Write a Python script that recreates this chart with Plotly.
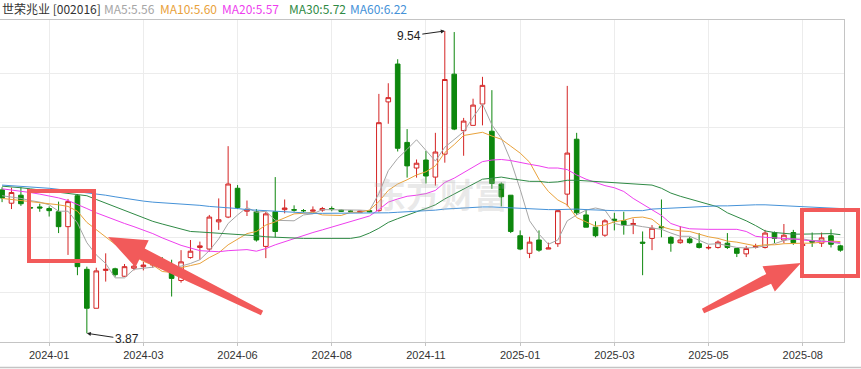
import plotly.graph_objects as go

# ---------------- data (weekly candles) ----------------
week_idx = list(range(90))

open_ = [6.56, 6.31, 6.46, 6.23, 6.24, 6.21, 6.15, 5.87, 6.45, 5.07,
         4.34, 5.05, 5.08, 4.94, 5.09, 5.12, 5.15, 5.22, 5.03, 4.86,
         5.29, 5.48, 5.45, 5.96, 6.05, 6.59, 6.16, 6.15, 5.50, 6.15,
         6.19, 6.19, 6.17, 6.16, 6.18, 6.21, 6.18, 6.16, 6.14, 6.17,
         6.17, 8.21, 8.92, 7.45, 6.97, 7.12, 6.80, 7.23, 8.73, 7.67,
         7.77, 8.17, 7.66, 6.67, 6.46, 5.70, 5.37, 5.62, 5.45, 5.55,
         6.48, 7.51, 6.09, 5.86, 5.71, 6.01, 5.98, 5.91, 5.58, 5.65,
         5.87, 5.67, 5.57, 5.64, 5.55, 5.47, 5.48, 5.56, 5.46, 5.36,
         5.48, 5.48, 5.76, 5.62, 5.76, 5.52, 5.60, 5.56, 5.70, 5.51]
high = [6.61, 6.60, 6.61, 6.25, 6.30, 6.25, 6.34, 6.39, 6.48, 5.12,
        5.10, 5.37, 5.10, 5.17, 5.28, 5.21, 5.22, 5.30, 5.25, 5.43,
        5.62, 5.59, 6.09, 6.40, 7.38, 6.65, 6.36, 6.20, 6.15, 6.80,
        6.38, 6.27, 6.20, 6.25, 6.24, 6.25, 6.19, 6.18, 6.17, 6.18,
        8.36, 8.56, 9.01, 7.70, 7.13, 7.29, 7.63, 9.54, 9.52, 7.91,
        8.27, 8.68, 8.43, 6.70, 6.46, 5.80, 5.68, 5.80, 5.57, 6.19,
        8.51, 7.63, 6.20, 5.97, 6.01, 6.13, 6.15, 6.02, 5.78, 5.90,
        6.38, 5.69, 5.88, 5.68, 5.75, 5.52, 5.61, 5.75, 5.46, 5.51,
        5.55, 5.81, 5.78, 5.92, 5.81, 5.58, 5.76, 5.76, 5.82, 5.53]
low = [6.33, 6.20, 6.26, 6.20, 6.15, 6.06, 5.75, 5.34, 4.96, 3.87,
       4.34, 4.84, 4.93, 4.93, 5.05, 5.05, 5.10, 5.15, 4.56, 4.82,
       5.27, 5.25, 5.40, 5.81, 6.03, 6.20, 6.07, 5.59, 5.28, 5.67,
       6.12, 6.15, 6.14, 6.14, 6.15, 6.16, 6.15, 6.14, 6.13, 6.14,
       6.15, 7.80, 7.28, 6.79, 6.79, 6.68, 6.64, 7.07, 7.68, 7.20,
       7.77, 7.77, 6.58, 6.25, 5.75, 5.43, 5.28, 5.40, 5.45, 5.49,
       6.25, 6.09, 5.86, 5.67, 5.68, 5.80, 5.72, 5.73, 4.96, 5.43,
       5.67, 5.40, 5.55, 5.55, 5.46, 5.44, 5.46, 5.45, 5.30, 5.30,
       5.46, 5.46, 5.56, 5.56, 5.53, 5.50, 5.49, 5.49, 5.48, 5.40]
close = [6.41, 6.51, 6.30, 6.22, 6.22, 6.17, 5.87, 6.34, 5.12, 4.34,
         5.04, 5.07, 4.97, 5.12, 5.13, 5.15, 5.18, 5.21, 4.90, 5.21,
         5.41, 5.51, 6.05, 6.00, 6.67, 6.23, 6.19, 5.62, 6.11, 5.78,
         6.22, 6.18, 6.17, 6.18, 6.21, 6.20, 6.16, 6.16, 6.16, 6.15,
         7.82, 8.29, 7.34, 7.01, 7.06, 6.82, 7.27, 8.63, 7.70, 7.85,
         8.15, 8.52, 6.68, 6.43, 5.78, 5.45, 5.58, 5.43, 5.47, 6.17,
         7.25, 6.13, 5.86, 5.70, 5.98, 5.99, 5.90, 5.93, 5.56, 5.84,
         5.85, 5.56, 5.62, 5.57, 5.48, 5.48, 5.58, 5.48, 5.37, 5.46,
         5.50, 5.75, 5.65, 5.71, 5.57, 5.53, 5.58, 5.66, 5.54, 5.43]

ma5 = [6.45, 6.43, 6.40, 6.36, 6.33, 6.28, 6.16, 6.16, 5.94, 5.57,
       5.34, 5.18, 4.91, 4.91, 5.07, 5.09, 5.11, 5.16, 5.11, 5.13,
       5.18, 5.25, 5.42, 5.64, 5.93, 6.09, 6.23, 6.14, 6.16, 5.99,
       5.98, 5.98, 6.09, 6.11, 6.19, 6.19, 6.18, 6.18, 6.18, 6.17,
       6.49, 6.92, 7.15, 7.32, 7.50, 7.30, 7.10, 7.36, 7.50, 7.65,
       7.92, 8.17, 7.78, 7.53, 7.11, 6.57, 5.98, 5.73, 5.54, 5.62,
       5.98, 6.09, 6.18, 6.22, 6.18, 5.93, 5.89, 5.90, 5.87, 5.84,
       5.82, 5.75, 5.69, 5.69, 5.62, 5.54, 5.55, 5.52, 5.48, 5.47,
       5.48, 5.51, 5.55, 5.61, 5.64, 5.64, 5.61, 5.61, 5.58, 5.55]
ma10 = [6.40, 6.38, 6.36, 6.34, 6.33, 6.31, 6.28, 6.25, 6.16, 5.95,
        5.81, 5.67, 5.54, 5.43, 5.32, 5.22, 5.15, 5.03, 5.01, 5.10,
        5.14, 5.18, 5.29, 5.38, 5.53, 5.64, 5.74, 5.78, 5.90, 5.96,
        6.04, 6.11, 6.12, 6.14, 6.09, 6.09, 6.08, 6.14, 6.14, 6.18,
        6.34, 6.55, 6.67, 6.75, 6.84, 6.90, 7.01, 7.26, 7.41, 7.58,
        7.61, 7.64, 7.57, 7.51, 7.38, 7.25, 7.08, 6.76, 6.53, 6.37,
        6.28, 6.04, 5.96, 5.88, 5.90, 5.96, 5.99, 6.04, 6.05, 6.01,
        5.87, 5.82, 5.79, 5.78, 5.73, 5.68, 5.65, 5.60, 5.58, 5.55,
        5.51, 5.53, 5.53, 5.55, 5.56, 5.56, 5.56, 5.58, 5.60, 5.59]
ma20 = [6.58, 6.56, 6.54, 6.51, 6.48, 6.45, 6.41, 6.36, 6.29, 6.21,
        6.13, 6.06, 5.99, 5.93, 5.87, 5.81, 5.74, 5.66, 5.59, 5.52,
        5.47, 5.42, 5.41, 5.40, 5.42, 5.43, 5.44, 5.41, 5.46, 5.53,
        5.59, 5.64, 5.70, 5.76, 5.81, 5.86, 5.91, 5.96, 6.02, 6.07,
        6.19, 6.33, 6.39, 6.44, 6.46, 6.49, 6.55, 6.70, 6.78, 6.88,
        6.98, 7.09, 7.12, 7.13, 7.11, 7.07, 7.04, 7.01, 6.97, 6.97,
        6.94, 6.84, 6.76, 6.70, 6.64, 6.60, 6.53, 6.40, 6.29, 6.19,
        6.08, 5.93, 5.87, 5.83, 5.82, 5.82, 5.82, 5.82, 5.82, 5.78,
        5.69, 5.67, 5.66, 5.66, 5.64, 5.62, 5.60, 5.59, 5.59, 5.57]
ma30 = [6.63, 6.62, 6.60, 6.58, 6.56, 6.54, 6.52, 6.50, 6.48, 6.45,
        6.38, 6.31, 6.24, 6.17, 6.10, 6.03, 5.97, 5.92, 5.87, 5.82,
        5.78, 5.77, 5.76, 5.75, 5.74, 5.73, 5.71, 5.70, 5.68, 5.67,
        5.66, 5.65, 5.65, 5.65, 5.65, 5.65, 5.66, 5.65, 5.68, 5.75,
        5.84, 5.95, 6.02, 6.09, 6.15, 6.21, 6.28, 6.39, 6.48, 6.57,
        6.66, 6.76, 6.78, 6.80, 6.77, 6.74, 6.72, 6.72, 6.70, 6.71,
        6.74, 6.74, 6.73, 6.71, 6.71, 6.70, 6.69, 6.68, 6.66, 6.65,
        6.59, 6.50, 6.44, 6.39, 6.34, 6.29, 6.24, 6.13, 6.06, 5.98,
        5.89, 5.79, 5.76, 5.74, 5.73, 5.73, 5.73, 5.74, 5.74, 5.72]
ma60 = [6.65, 6.64, 6.63, 6.62, 6.60, 6.59, 6.57, 6.55, 6.53, 6.51,
        6.49, 6.46, 6.43, 6.40, 6.37, 6.35, 6.33, 6.32, 6.30, 6.29,
        6.28, 6.27, 6.25, 6.24, 6.22, 6.21, 6.19, 6.18, 6.16, 6.15,
        6.14, 6.13, 6.13, 6.12, 6.12, 6.12, 6.12, 6.12, 6.12, 6.12,
        6.12, 6.13, 6.14, 6.15, 6.15, 6.16, 6.18, 6.20, 6.21, 6.23,
        6.24, 6.24, 6.24, 6.23, 6.23, 6.22, 6.21, 6.20, 6.19, 6.19,
        6.20, 6.20, 6.19, 6.18, 6.18, 6.17, 6.17, 6.17, 6.17, 6.20,
        6.21, 6.22, 6.23, 6.24, 6.25, 6.25, 6.26, 6.26, 6.27, 6.27,
        6.28, 6.28, 6.27, 6.27, 6.25, 6.24, 6.23, 6.23, 6.22, 6.21]

tick_idx = [5, 15, 25, 35, 45, 55, 65, 75, 85]
tick_labels = ["2024-01", "2024-03", "2024-06", "2024-08", "2024-11",
               "2025-01", "2025-03", "2025-05", "2025-08"]

stock_title = "世荣兆业 [002016]"
ma_names = ["MA5:5.56", "MA10:5.60", "MA20:5.57", "MA30:5.72", "MA60:6.22"]
ma_series = [ma5, ma10, ma20, ma30, ma60]
ma_colors = ["#a6a6a6", "#e9a23b", "#ee3fee", "#2f8a45", "#4592d8"]

RED = "#d42424"
GREEN = "#0d870d"

# ---------------- layout geometry helpers (pixels -> paper) ----------------
PLOT_L, PLOT_R, PLOT_T, PLOT_B = 0, 844, 20, 342


def pxx(x):
    return (x - PLOT_L) / (PLOT_R - PLOT_L)


def pxy(y):
    return (PLOT_B - y) / (PLOT_B - PLOT_T)


fig = go.Figure()

fig.add_trace(go.Candlestick(
    x=week_idx, open=open_, high=high, low=low, close=close,
    increasing=dict(line=dict(color=RED, width=1), fillcolor="#ffffff"),
    decreasing=dict(line=dict(color=GREEN, width=1), fillcolor=GREEN),
    whiskerwidth=0, hoverinfo="skip", showlegend=False,
))

for s, c in zip(ma_series, ma_colors):
    fig.add_trace(go.Scatter(x=week_idx, y=s, mode="lines",
                             line=dict(color=c, width=1),
                             hoverinfo="skip", showlegend=False))

annotations = []

# header row
header_items = [(stock_title, "#333333", 0)] + \
    list(zip(ma_names, ma_colors, [102, 158, 220, 287, 348]))
for txt, col, xpos in header_items:
    annotations.append(dict(
        text=txt, xref="paper", yref="paper", x=pxx(xpos), y=pxy(8.5),
        xanchor="left", yanchor="middle", showarrow=False,
        font=dict(family="Noto Sans CJK SC", size=12, color=col)))

# watermark
annotations.append(dict(
    text="<b>东方财富</b>", xref="paper", yref="paper", x=pxx(440), y=pxy(193),
    xanchor="center", yanchor="middle", showarrow=False,
    font=dict(family="Noto Sans CJK SC", size=34, color="rgba(180,180,180,0.28)")))

# max / min markers
hi_val = max(high)
hi_i = high.index(hi_val)
lo_val = min(low)
lo_i = low.index(lo_val)
annotations.append(dict(
    x=week_idx[hi_i], y=hi_val, xref="x", yref="y", text=f"{hi_val:.2f}",
    showarrow=True, ax=-36, ay=5, arrowhead=2, arrowsize=0.8, arrowwidth=1,
    arrowcolor="#222222", standoff=0,
    font=dict(family="Liberation Sans", size=12, color="#222222")))
annotations.append(dict(
    x=week_idx[lo_i], y=lo_val, xref="x", yref="y", text=f"{lo_val:.2f}",
    showarrow=True, ax=40, ay=6, arrowhead=2, arrowsize=0.8, arrowwidth=1,
    arrowcolor="#222222", standoff=0,
    font=dict(family="Liberation Sans", size=12, color="#222222")))

# ---------------- red highlight overlays ----------------
OVER = "#f25a5a"
shapes = [
    dict(type="rect", xref="paper", yref="paper",
         x0=pxx(29), x1=pxx(94), y0=pxy(191), y1=pxy(261),
         line=dict(color=OVER, width=4)),
    dict(type="rect", xref="paper", yref="paper",
         x0=pxx(802), x1=pxx(858), y0=pxy(210), y1=pxy(276),
         line=dict(color=OVER, width=4)),
    # bottom border of the date strip
    dict(type="line", xref="paper", yref="paper",
         x0=pxx(0), x1=pxx(861), y0=pxy(367.5), y1=pxy(367.5),
         line=dict(color="#c4c4c4", width=1.5)),
]


def arrow_path(tip, tail, head_len, head_hw, shaft_hw, tail_hw):
    tx, ty = tip
    sx, sy = tail
    dx, dy = tx - sx, ty - sy
    ln = (dx * dx + dy * dy) ** 0.5
    ux, uy = dx / ln, dy / ln
    nx, ny = -uy, ux
    bx, by = tx - ux * head_len, ty - uy * head_len
    pts = [(tx, ty),
           (bx + nx * head_hw, by + ny * head_hw),
           (bx + nx * shaft_hw, by + ny * shaft_hw),
           (sx + nx * tail_hw, sy + ny * tail_hw),
           (sx - nx * tail_hw, sy - ny * tail_hw),
           (bx - nx * shaft_hw, by - ny * shaft_hw),
           (bx - nx * head_hw, by - ny * head_hw)]
    return "M " + " L ".join(f"{pxx(px):.5f},{pxy(py):.5f}" for px, py in pts) + " Z"


shapes.append(dict(type="path", xref="paper", yref="paper",
                   path=arrow_path((108, 237), (262, 313), 38, 15, 6, 2.5),
                   fillcolor=OVER, line=dict(width=0)))
shapes.append(dict(type="path", xref="paper", yref="paper",
                   path=arrow_path((801, 263), (703, 311), 36, 14, 5.5, 2.5),
                   fillcolor=OVER, line=dict(width=0)))

fig.update_layout(
    width=861, height=369,
    margin=dict(l=PLOT_L, r=861 - PLOT_R, t=PLOT_T, b=369 - PLOT_B),
    paper_bgcolor="#ffffff", plot_bgcolor="#ffffff",
    showlegend=False, hovermode=False, boxgap=0.3,
    annotations=annotations, shapes=shapes,
    xaxis=dict(range=[-0.22, 89.38], tickmode="array", tickvals=tick_idx,
               ticktext=tick_labels, showgrid=True, gridcolor="#ececec",
               gridwidth=1, showline=True, linecolor="#c4c4c4", linewidth=1,
               mirror=True, ticks="outside", ticklen=3, tickcolor="#c4c4c4",
               zeroline=False, rangeslider=dict(visible=False),
               tickfont=dict(family="Liberation Sans", size=11, color="#333333")),
    yaxis=dict(range=[3.707, 9.746], tickmode="linear", tick0=8.752, dtick=1.028,
               showticklabels=False, showgrid=True, gridcolor="#ececec",
               gridwidth=1, showline=True, linecolor="#c4c4c4", linewidth=1,
               mirror=True, zeroline=False, ticks=""),
)

fig.write_html("out.html")
